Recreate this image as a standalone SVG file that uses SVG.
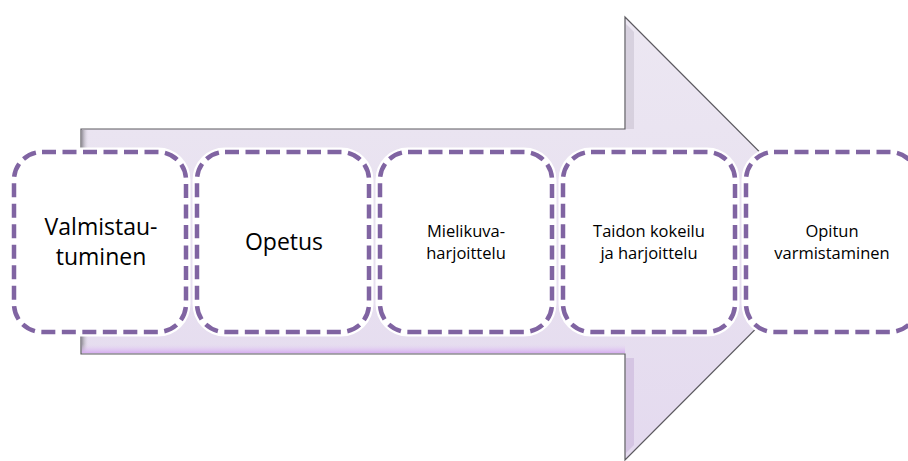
<svg xmlns="http://www.w3.org/2000/svg" width="908" height="461" viewBox="0 0 908 461">
  <style>
    .box-halo { fill: #ffffff; stroke: #ffffff; stroke-width: 9; }
    .box { fill: #ffffff; stroke: #8064A2; stroke-width: 4.5; stroke-dasharray: 14 6.5; stroke-linecap: butt; }
    .lbl { font-family: "Open Sans", "Liberation Sans", Arial, sans-serif; fill: #000000; text-anchor: middle; }
    .big { font-size: 23px; }
    .small { font-size: 16.5px; }
  </style>
  <defs>
    <linearGradient id="arrowFill" x1="0" y1="0" x2="0" y2="1">
      <stop offset="0" stop-color="#ECE7F2"/>
      <stop offset="0.5" stop-color="#E8E1F0"/>
      <stop offset="1" stop-color="#E4DAEF"/>
    </linearGradient>
    <linearGradient id="leftBevel" x1="0" y1="0" x2="1" y2="0">
      <stop offset="0" stop-color="#9a97a0"/>
      <stop offset="1" stop-color="#E8E1F0" stop-opacity="0"/>
    </linearGradient>
    <linearGradient id="bottomBevel" x1="0" y1="0" x2="0" y2="1">
      <stop offset="0" stop-color="#E6D6F2" stop-opacity="0"/>
      <stop offset="1" stop-color="#D6AEF0"/>
    </linearGradient>
  </defs>

  <!-- big background arrow -->
  <g id="arrow">
    <polygon points="81,129 625,129 625,17 846,238.5 625,460 625,354 81,354" fill="url(#arrowFill)" stroke="#5c5a60" stroke-width="1.2"/>
    <rect x="82" y="130" width="7" height="223" fill="url(#leftBevel)"/>
    <rect x="82" y="344" width="543" height="9" fill="url(#bottomBevel)"/>
    <polygon points="626,24 634,32 634,129 626,129" fill="#C9C3D2" opacity="0.6"/>
    <polygon points="626,358 634,358 634,445 626,453" fill="#C9B6DA" opacity="0.6"/>
  </g>

  <!-- step boxes -->
  <g id="step1">
    <rect class="box-halo" x="14" y="152" width="172" height="180" rx="28"/>
    <rect class="box" x="14" y="152" width="172" height="180" rx="28"/>
    <text class="lbl big" x="101" y="235">Valmistau-</text>
    <text class="lbl big" x="101" y="265">tuminen</text>
  </g>
  <g id="step2">
    <rect class="box-halo" x="197" y="152" width="172" height="180" rx="28"/>
    <rect class="box" x="197" y="152" width="172" height="180" rx="28"/>
    <text class="lbl big" x="284" y="250">Opetus</text>
  </g>
  <g id="step3">
    <rect class="box-halo" x="380" y="152" width="172" height="180" rx="28"/>
    <rect class="box" x="380" y="152" width="172" height="180" rx="28"/>
    <text class="lbl small" x="466" y="237">Mielikuva-</text>
    <text class="lbl small" x="466" y="259">harjoittelu</text>
  </g>
  <g id="step4">
    <rect class="box-halo" x="563" y="152" width="172" height="180" rx="28"/>
    <rect class="box" x="563" y="152" width="172" height="180" rx="28"/>
    <text class="lbl small" x="649" y="237">Taidon kokeilu</text>
    <text class="lbl small" x="649" y="259">ja harjoittelu</text>
  </g>
  <g id="step5">
    <rect class="box-halo" x="746" y="152" width="172" height="180" rx="28"/>
    <rect class="box" x="746" y="152" width="172" height="180" rx="28"/>
    <text class="lbl small" x="832" y="237">Opitun</text>
    <text class="lbl small" x="832" y="259">varmistaminen</text>
  </g>

  <g id="connectors"></g>
</svg>
